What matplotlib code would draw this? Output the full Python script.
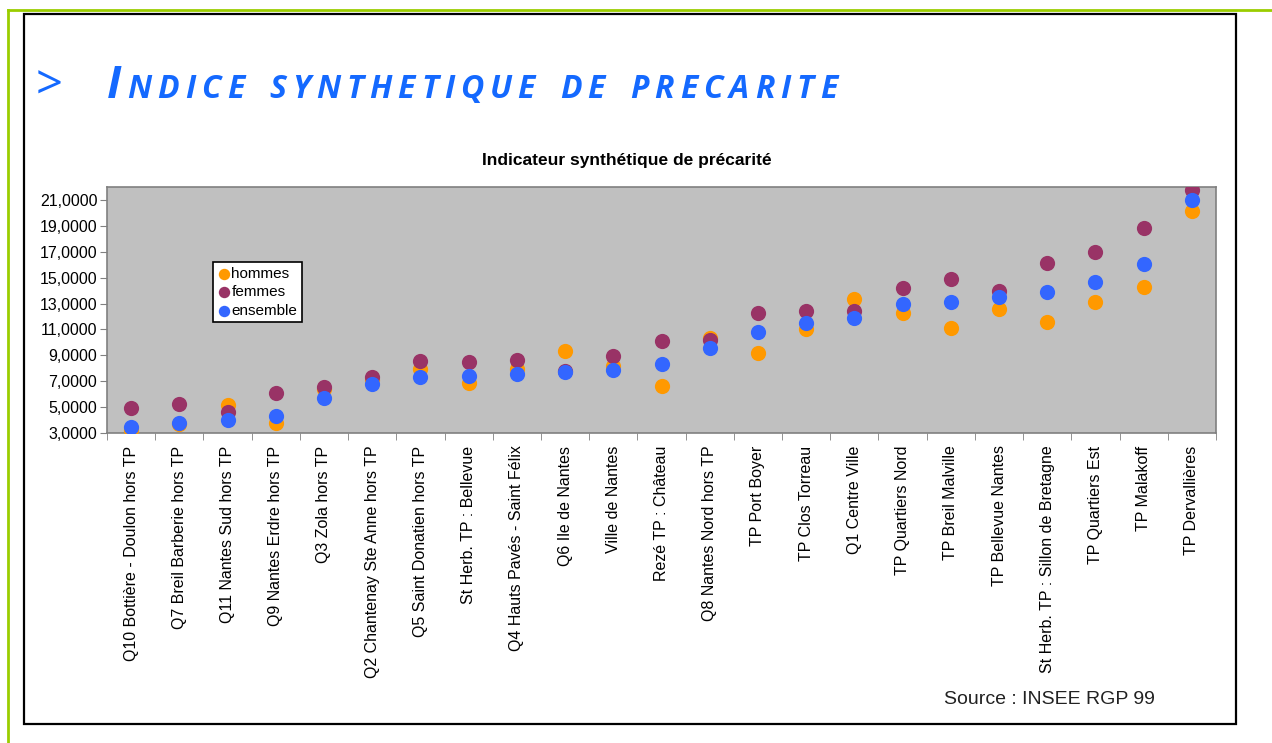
import matplotlib.pyplot as plt
import matplotlib.patches as mpatches
import matplotlib.lines as mlines
import numpy as np

plt.rcParams['font.family'] = ['Liberation Sans', 'DejaVu Sans']

# categories (sorted by ensemble)
quartiers = ["Q10 Bottière - Doulon hors TP", "Q7 Breil Barberie hors TP",
             "Q11 Nantes Sud hors TP", "Q9 Nantes Erdre hors TP", "Q3 Zola hors TP",
             "Q2 Chantenay Ste Anne hors TP", "Q5 Saint Donatien hors TP",
             "St Herb. TP : Bellevue", "Q4 Hauts Pavés - Saint Félix",
             "Q6 Ile de Nantes", "Ville de Nantes", "Rezé TP : Château",
             "Q8 Nantes Nord hors TP", "TP Port Boyer", "TP Clos Torreau",
             "Q1 Centre Ville", "TP Quartiers Nord", "TP Breil Malville",
             "TP Bellevue Nantes", "St Herb. TP : Sillon de Bretagne",
             "TP Quartiers Est", "TP Malakoff", "TP Dervallières"]

hommes = [3.25, 3.7, 5.14, 3.8, 6.4, 7.1, 7.93, 6.84, 7.96, 9.31, 8.14, 6.63,
          10.36, 9.18, 11.01, 13.38, 12.24, 11.09, 12.57, 11.58, 13.15, 14.27, 20.14]
femmes = [4.93, 5.27, 4.62, 6.10, 6.57, 7.36, 8.58, 8.45, 8.61, 7.8, 8.92, 10.07,
          10.15, 12.24, 12.44, 12.39, 14.19, 14.87, 13.93, 16.15, 16.96, 18.84, 21.76]
ensemble = [3.5, 3.8, 4.04, 4.28, 5.71, 6.76, 7.36, 7.41, 7.57, 7.70, 7.88, 8.32,
            9.57, 10.80, 11.53, 11.87, 12.99, 13.10, 13.49, 13.91, 14.66, 16.02, 21.0]

yticks = [3, 5, 7, 9, 11, 13, 15, 17, 19, 21]

W, H = 1272, 743
fig = plt.figure(figsize=(W / 100, H / 100), dpi=100)

# outer frames
fig.add_artist(mlines.Line2D([8 / W, 8 / W], [0, 1 - 10 / H], transform=fig.transFigure,
                             color='#9ACD00', lw=2))
fig.add_artist(mlines.Line2D([8 / W, 1], [1 - 10 / H, 1 - 10 / H], transform=fig.transFigure,
                             color='#9ACD00', lw=2))
fig.add_artist(mpatches.Rectangle((24 / W, 1 - 724 / H), (1236 - 24) / W, (724 - 14) / H,
                                  transform=fig.transFigure, fill=False,
                                  edgecolor='black', lw=1.6))

ax = fig.add_axes([107 / W, 1 - 433 / H, (1216 - 107) / W, (433 - 187) / H])
ax.set_facecolor('#C0C0C0')
for s in ax.spines.values():
    s.set_color('#808080')
    s.set_linewidth(1.2)

x = np.arange(len(quartiers))
ax.scatter(x, hommes, s=120, color='#FF9900', zorder=3, label='hommes', linewidths=0)
ax.scatter(x, femmes, s=120, color='#993366', zorder=4, label='femmes', linewidths=0)
ax.scatter(x, ensemble, s=120, color='#3366FF', zorder=5, label='ensemble', linewidths=0)

ax.set_xlim(-0.5, len(quartiers) - 0.5)
ax.set_ylim(3, 22)
ax.set_yticks(yticks)
ax.set_yticklabels([f"{v:.4f}".replace('.', ',') for v in yticks], fontsize=11.5)
ax.set_xticks(x)
ax.set_xticklabels(quartiers, rotation=90, fontsize=11.5, va='top')
ax.set_xticks(np.arange(len(quartiers) + 1) - 0.5, minor=True)
ax.tick_params(axis='x', which='major', length=0, pad=9)
ax.tick_params(axis='x', which='minor', length=5, color='#808080')
ax.tick_params(axis='y', length=5, color='#808080', pad=2)

leg = ax.legend(loc='upper left', bbox_to_anchor=(213 / W, 1 - 262 / H),
                bbox_transform=fig.transFigure, fontsize=11, frameon=True,
                fancybox=False, edgecolor='black', framealpha=1,
                handletextpad=0.0, handlelength=0.9, borderpad=0.3,
                labelspacing=0.3, markerscale=0.75, borderaxespad=0)
leg.get_frame().set_linewidth(1.2)

ax.set_title("Indicateur synthétique de précarité", fontsize=12.5, fontweight='bold',
             pad=16, x=(627 - 107) / (1216 - 107))

# title in small caps, letter-spaced
blue = '#1469FF'
tfont = dict(family='Open Sans', style='italic', weight='bold', color=blue)
base = H - 98
fig.text(36 / W, 1 - 87 / H, ">", fontsize=34, va='center', ha='left',
         family='Open Sans', color=blue)
words = ["INDICE", "SYNTHETIQUE", "DE", "PRECARITE"]
prev = fig.text(107 / W, base / H, "I", fontsize=32, va='baseline', ha='left', **tfont)
first = True
for w in words:
    chars = w[1:] if first else w
    for k, ch in enumerate(chars):
        gap = 4.3 if (k > 0 or first) else 18
        prev = ax.annotate(ch, xy=(1, base), xycoords=(prev, 'figure pixels'),
                           xytext=(gap, 0), textcoords='offset points',
                           fontsize=23, va='baseline', ha='left',
                           annotation_clip=False, **tfont)
    first = False

fig.text(1155 / W, 1 - 699 / H, "Source : INSEE RGP 99", fontsize=14, ha='right',
         va='center', color='#222222')

plt.savefig('out.png', dpi=100)
